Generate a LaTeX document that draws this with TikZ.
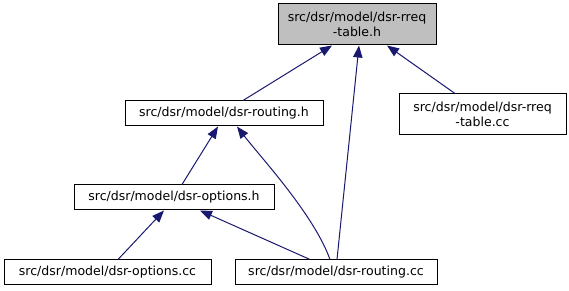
\documentclass[tikz,border=0pt]{standalone}
\usepackage{fontspec}
\setmainfont{DejaVu Sans}
\usetikzlibrary{arrows.meta, calc}
\definecolor{depblue}{HTML}{191970}

\begin{document}
\begin{tikzpicture}[x=0.75pt, y=-0.75pt, font=\fontsize{9.4}{11}\selectfont,
	file/.style={draw=black, fill=white, line width=0.75pt, inner sep=0pt, align=center, minimum height=18.75pt},
	rootfile/.style={file, fill=black!25, minimum height=30.75pt},
	incl/.style={depblue, line width=0.75pt, -{Triangle[length=9pt, width=7pt]}}]
	\useasboundingbox (0,0) rectangle (569,291);
	\node[rootfile, minimum width=118.5pt] (rreqh) at (357,24.5) {src/dsr/model/dsr-rreq\\-table.h};
	\node[file, minimum width=148.5pt] (routingh) at (224,113.5) {src/dsr/model/dsr-routing.h};
	\node[file, minimum width=125.25pt, minimum height=30.75pt] (rreqcc) at (482.5,114.5) {src/dsr/model/dsr-rreq\\-table.cc};
	\node[file, minimum width=150pt] (optionsh) at (174,197.5) {src/dsr/model/dsr-options.h};
	\node[file, minimum width=155.25pt] (optionscc) at (107.5,272.5) {src/dsr/model/dsr-options.cc};
	\node[file, minimum width=151.5pt] (routingcc) at (336,272.5) {src/dsr/model/dsr-routing.cc};
	\draw[incl] ($(routingh.north)+(19,0)$) -- ($(rreqh.south)+(-25,0)$);
	\draw[incl] ($(rreqcc.north)+(-27.5,0)$) -- ($(rreqh.south)+(30,0)$);
	\draw[incl] ($(routingcc.north)+(1,0)$) -- ($(rreqh.south)+(2,0)$);
	\draw[incl] ($(routingcc.north)+(-6,0)$) .. controls ($(routingcc.north)+(-22,-45)$) and ($(routingh.south)+(36,30)$) .. ($(routingh.south)+(13,0)$);
	\draw[incl] ($(routingcc.north)+(-26,0)$) -- ($(optionsh.south)+(26,0)$);
	\draw[incl] ($(optionsh.north)+(8,0)$) -- ($(routingh.south)+(-6,0)$);
	\draw[incl] ($(optionscc.north)+(10.5,0)$) -- ($(optionsh.south)+(-10,0)$);
\end{tikzpicture}
\end{document}
